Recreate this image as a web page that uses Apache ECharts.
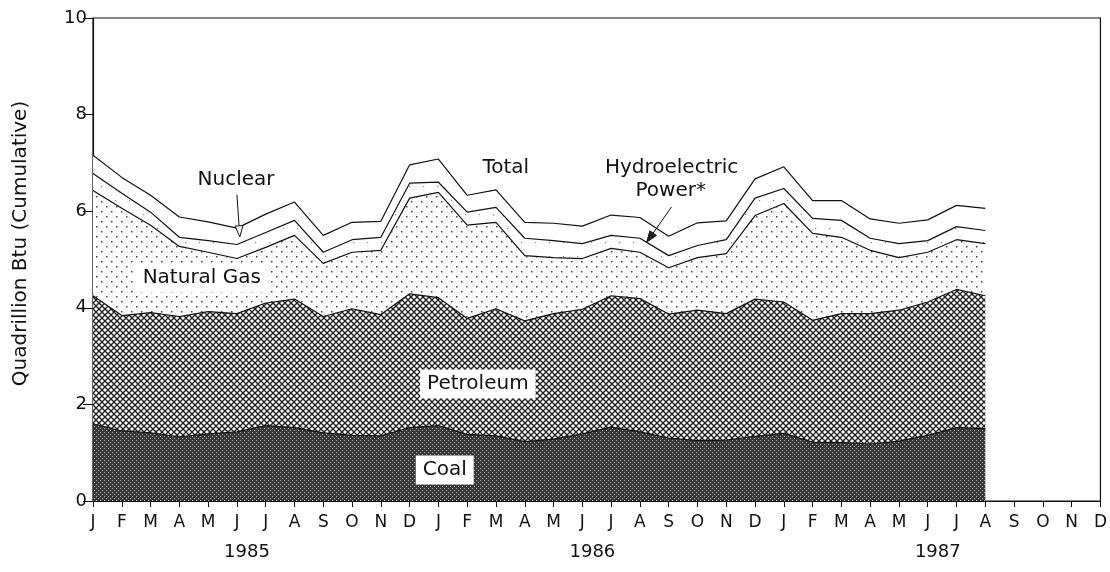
<!DOCTYPE html>
<html lang="en">
<head>
<meta charset="UTF-8">
<title>Energy Consumption by Source</title>
<script src="https://cdn.jsdelivr.net/npm/echarts@6/dist/echarts.min.js"></script>
<style>
    body { margin: 0; background: #fff; }
    #main { width: 1110px; height: 572px; }
</style>
</head>
<body>
<div id="main"></div>
<script>
    // Jan 1985 .. Dec 1987, data runs through Aug 1987
    var monthNames = ['J', 'F', 'M', 'A', 'M', 'J', 'J', 'A', 'S', 'O', 'N', 'D'];
    var months = monthNames.concat(monthNames, monthNames);
    var years = ['1985', '1986', '1987'];
    var yTicks = [0, 2, 4, 6, 8, 10];

    // quadrillion Btu per month (stacked bottom -> top)
    var coal = [1.60, 1.45, 1.41, 1.33, 1.39, 1.43, 1.56, 1.52, 1.41, 1.36, 1.35, 1.52,
                1.56, 1.38, 1.35, 1.23, 1.28, 1.39, 1.53, 1.43, 1.30, 1.25, 1.26, 1.34,
                1.40, 1.22, 1.21, 1.18, 1.24, 1.36, 1.52, 1.50];
    var petroleum = [2.65, 2.39, 2.49, 2.49, 2.53, 2.45, 2.54, 2.66, 2.41, 2.62, 2.51, 2.77,
                     2.65, 2.40, 2.63, 2.50, 2.60, 2.58, 2.72, 2.76, 2.57, 2.70, 2.62, 2.84,
                     2.72, 2.52, 2.67, 2.70, 2.71, 2.76, 2.86, 2.75];
    var naturalGas = [2.18, 2.22, 1.81, 1.45, 1.23, 1.14, 1.15, 1.32, 1.10, 1.17, 1.33, 1.98,
                      2.18, 1.93, 1.79, 1.35, 1.16, 1.05, 0.98, 0.96, 0.96, 1.09, 1.24, 1.73,
                      2.04, 1.80, 1.58, 1.31, 1.09, 1.03, 1.03, 1.08];
    var hydro = [0.35, 0.31, 0.27, 0.19, 0.24, 0.29, 0.31, 0.31, 0.23, 0.26, 0.27, 0.31,
                 0.21, 0.27, 0.31, 0.36, 0.35, 0.31, 0.27, 0.29, 0.25, 0.25, 0.29, 0.36,
                 0.31, 0.31, 0.35, 0.25, 0.29, 0.24, 0.27, 0.27];
    var nuclear = [0.38, 0.33, 0.35, 0.42, 0.39, 0.34, 0.38, 0.38, 0.35, 0.36, 0.33, 0.38,
                   0.48, 0.35, 0.36, 0.33, 0.36, 0.36, 0.42, 0.43, 0.40, 0.47, 0.39, 0.40,
                   0.45, 0.37, 0.41, 0.40, 0.42, 0.43, 0.44, 0.46];

    // fill patterns, drawn on small canvases
    function makePattern(size, bg, draw) {
        var c = document.createElement('canvas');
        c.width = c.height = size;
        var ctx = c.getContext('2d');
        ctx.fillStyle = bg;
        ctx.fillRect(0, 0, size, size);
        if (draw) draw(ctx, size);
        return { image: c, repeat: 'repeat' };
    }
    var coalFill = makePattern(4, '#383838', function (ctx) {
        ctx.fillStyle = '#b0b0b0';
        ctx.fillRect(0, 0, 1, 1);
        ctx.fillRect(2, 2, 1, 1);
    });
    var petroFill = makePattern(6, '#ffffff', function (ctx, s) {
        ctx.strokeStyle = '#222';
        ctx.lineWidth = 1.35;
        for (var k = -s; k <= s; k += s) {
            ctx.beginPath(); ctx.moveTo(k, 0); ctx.lineTo(k + s, s); ctx.stroke();
            ctx.beginPath(); ctx.moveTo(k + s, 0); ctx.lineTo(k, s); ctx.stroke();
        }
    });
    var gasFill = makePattern(10, '#ffffff', function (ctx) {
        ctx.fillStyle = '#444';
        ctx.fillRect(1, 1, 1.5, 1.5);
        ctx.fillRect(6, 6, 1.5, 1.5);
    });
    var hydroFill = makePattern(14, '#ffffff', function (ctx) {
        ctx.fillStyle = '#888';
        ctx.fillRect(3, 4, 1.2, 1.2);
    });

    var font = 'DejaVu Sans';

    function layer(name, data, fill) {
        return {
            name: name,
            type: 'line',
            stack: 'total',
            data: data,
            symbol: 'none',
            animation: false,
            lineStyle: { color: '#111', width: 1.2 },
            areaStyle: { color: fill, opacity: 1 }
        };
    }

    var myChart = echarts.init(document.getElementById('main'));
    myChart.setOption({
        backgroundColor: '#fff',
        animation: false,
        grid: { left: 93, right: 9, top: 18, bottom: 71, show: true, borderColor: '#111', borderWidth: 1.2 },
        xAxis: {
            type: 'category',
            data: months,
            boundaryGap: false,
            axisLine: { lineStyle: { color: '#111', width: 1.2 } },
            axisTick: { interval: 0, length: 6, lineStyle: { color: '#111' } },
            axisLabel: { interval: 0, color: '#111', fontFamily: font, fontSize: 17, margin: 13 },
            splitLine: { show: false }
        },
        yAxis: {
            type: 'value',
            min: yTicks[0],
            max: yTicks[yTicks.length - 1],
            interval: 2,
            name: 'Quadrillion Btu (Cumulative)',
            nameLocation: 'middle',
            nameGap: 62,
            nameTextStyle: { color: '#111', fontFamily: font, fontSize: 20, padding: [0, 0, 0, 32] },
            axisLine: { show: true, lineStyle: { color: '#111', width: 1.2 } },
            axisTick: { show: true, length: 10, lineStyle: { color: '#111' } },
            axisLabel: { color: '#111', fontFamily: font, fontSize: 18, margin: 6 },
            splitLine: { show: false }
        },
        series: [
            layer('Coal', coal, coalFill),
            layer('Petroleum', petroleum, petroFill),
            layer('Natural Gas', naturalGas, gasFill),
            layer('Hydroelectric Power', hydro, hydroFill),
            layer('Nuclear', nuclear, '#ffffff')
        ]
    });

    // position helper: fractional category index + value -> pixel
    function px(idx, val) {
        var a = myChart.convertToPixel({ gridIndex: 0 }, [0, val]);
        var b = myChart.convertToPixel({ gridIndex: 0 }, [35, val]);
        return [a[0] + (b[0] - a[0]) * idx / 35, a[1]];
    }

    function label(text, idx, val, boxed, size) {
        var p = px(idx, val);
        var style = {
            text: text, x: p[0], y: p[1], fill: '#111',
            font: (size || 20) + 'px "' + font + '"',
            align: 'center', verticalAlign: 'middle'
        };
        if (boxed) {
            style.backgroundColor = '#fff';
            style.padding = [5, 7, 4, 7];
        }
        return { type: 'text', z: 100, style: style };
    }

    function arrow(from, to, hollow) {
        var p0 = px(from[0], from[1]), p1 = px(to[0], to[1]);
        var dx = p1[0] - p0[0], dy = p1[1] - p0[1];
        var len = Math.sqrt(dx * dx + dy * dy), ux = dx / len, uy = dy / len;
        var hl = 11, hw = 4;
        var bx = p1[0] - ux * hl, by = p1[1] - uy * hl;
        return [
            { type: 'line', z: 100, shape: { x1: p0[0], y1: p0[1], x2: bx, y2: by },
              style: { stroke: '#111', lineWidth: 1 } },
            { type: 'polygon', z: 100,
              shape: { points: [[p1[0], p1[1]], [bx - uy * hw, by + ux * hw], [bx + uy * hw, by - ux * hw]] },
              style: { fill: hollow ? '#fff' : '#222', stroke: '#111', lineWidth: 1 } }
        ];
    }

    var graphics = [
        label('Nuclear', 4.97, 6.65),
        label('Total', 14.34, 6.89),
        label('Hydroelectric', 20.1, 6.89),
        label('Power*', 20.07, 6.42),
        label('Natural Gas', 3.78, 4.62, true),
        label('Petroleum', 13.37, 2.42, true),
        label('Coal', 12.22, 0.64, true)
    ];
    graphics = graphics.concat(arrow([5.0, 6.34], [5.1, 5.47], true));
    graphics = graphics.concat(arrow([20.1, 6.09], [19.24, 5.36], false));
    years.forEach(function (y, i) {
        graphics.push(label(y, 5.35 + 12 * i, -1.06, false, 18));
    });

    myChart.setOption({ graphic: graphics });
</script>
</body>
</html>
